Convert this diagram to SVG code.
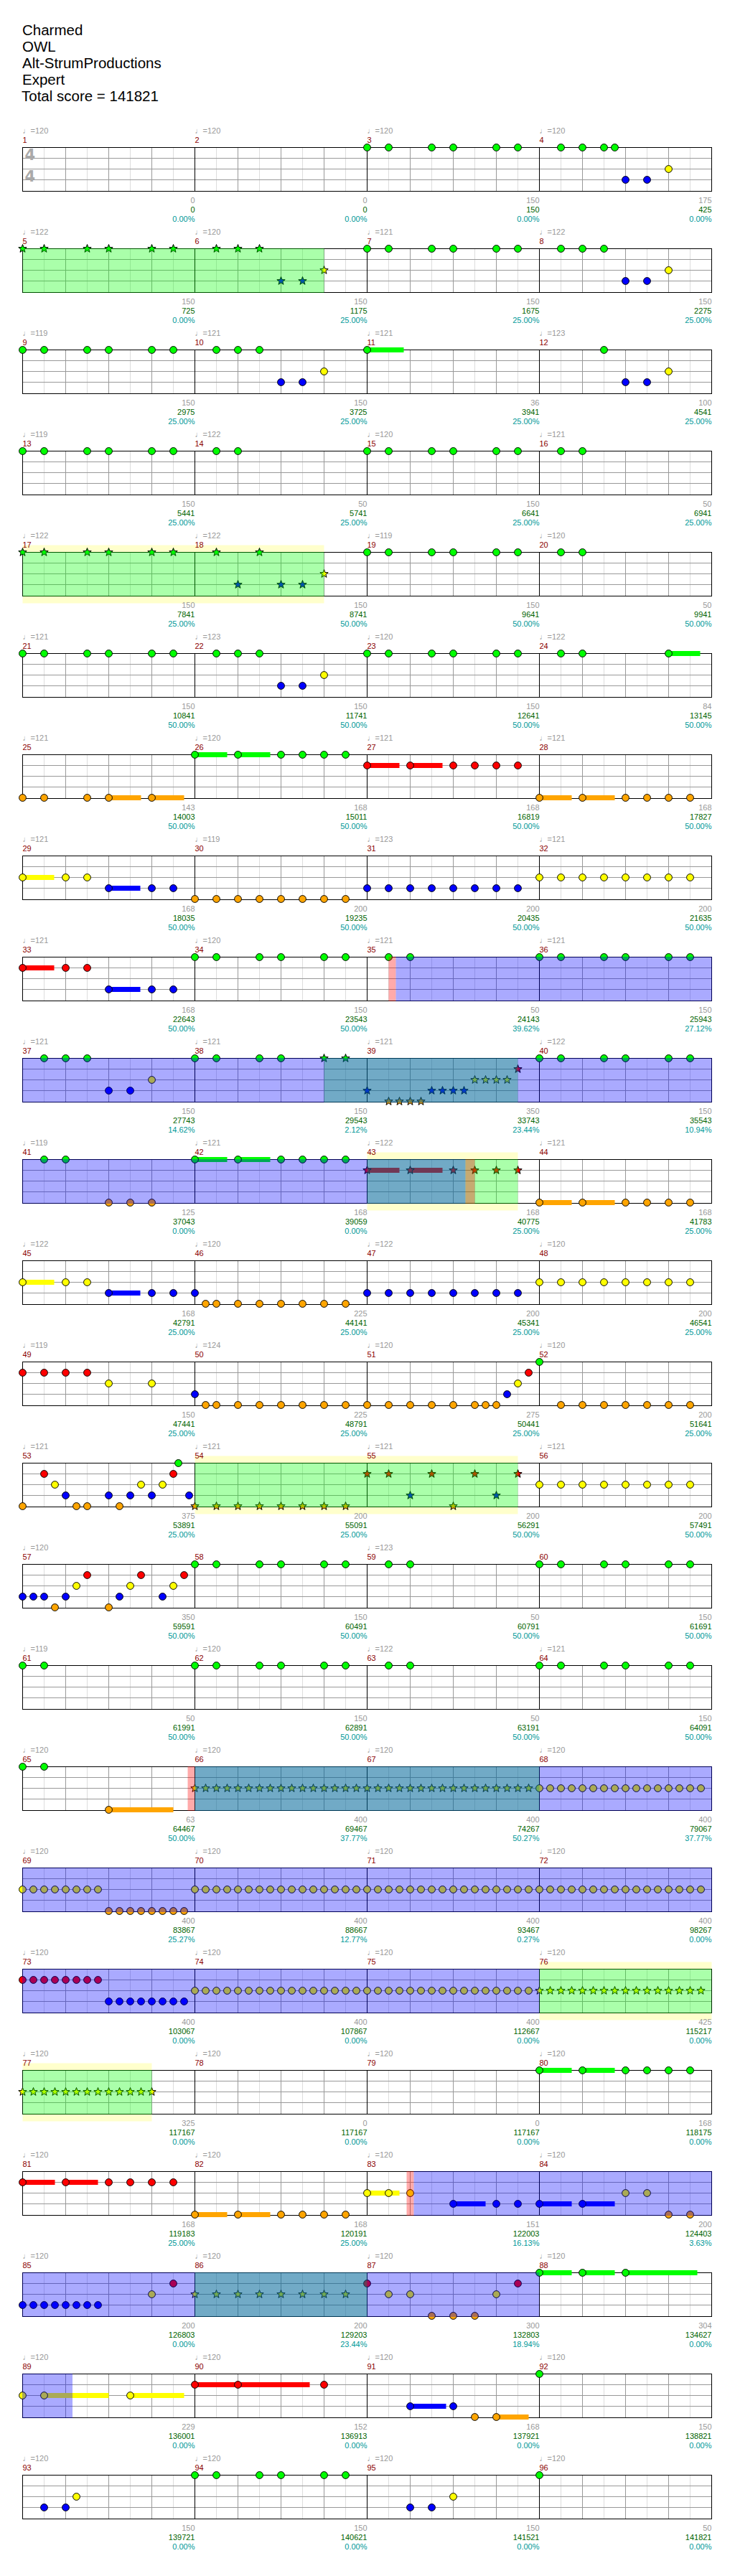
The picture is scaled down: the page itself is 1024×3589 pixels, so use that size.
<svg xmlns="http://www.w3.org/2000/svg" xmlns:xlink="http://www.w3.org/1999/xlink" width="1024" height="3589" viewBox="0 0 1024 3589">
<style>
.t{font-family:"Liberation Sans",Arial,"DejaVu Sans",sans-serif;font-size:11px}
.tp{fill:#999}
.mn{fill:#8b0000}
.s1{fill:#999;text-anchor:end}
.s2{fill:#006400;text-anchor:end}
.s3{fill:#009999;text-anchor:end}
.hd{font-family:"Liberation Sans",Arial,sans-serif;font-size:20.5px;fill:#000}
.ts{font-family:"DejaVu Sans",sans-serif;font-size:21px;font-weight:bold;fill:#aaa}
.og{fill:#0f0;opacity:.333}
.ob{fill:#00f;opacity:.333}
.op{fill:#f00;opacity:.333}
.bd{fill:#ff0;opacity:.2}
.sg{fill:#0f0}.sr{fill:#f00}.sy{fill:#ff0}.sb{fill:#00f}.so{fill:#ffa500}
</style>
<defs>
<g id="staff">
<rect x="31" y="0" width="960" height="61" fill="#fff"/>
<path d="M61 0V61M121 0V61M181 0V61M241 0V61M301 0V61M361 0V61M421 0V61M481 0V61M541 0V61M601 0V61M661 0V61M721 0V61M781 0V61M841 0V61M901 0V61M961 0V61" stroke="#ddd"/>
<path d="M31 15H991M31 30H991M31 45H991M91 0V61M151 0V61M211 0V61M331 0V61M391 0V61M451 0V61M571 0V61M631 0V61M691 0V61M811 0V61M871 0V61M931 0V61" stroke="#999"/>
<path d="M271 0V61M511 0V61M751 0V61" stroke="#000"/>
<rect x="31" y="0" width="960" height="61" fill="none" stroke="#000"/>
</g>
<circle id="g" r="4.9" fill="#0f0" stroke="#000"/>
<circle id="r" r="4.9" fill="#f00" stroke="#000"/>
<circle id="y" r="4.9" fill="#ff0" stroke="#000"/>
<circle id="b" r="4.9" fill="#00f" stroke="#000"/>
<circle id="o" r="4.9" fill="#ffa500" stroke="#000"/>
<polygon id="G" fill="#0f0" stroke="#000" points="0,-6 1.47,-2 5.7,-1.85 2.38,.77 3.53,4.85 0,2.5 -3.53,4.85 -2.38,.77 -5.7,-1.85 -1.47,-2"/>
<polygon id="R" fill="#f00" stroke="#000" points="0,-6 1.47,-2 5.7,-1.85 2.38,.77 3.53,4.85 0,2.5 -3.53,4.85 -2.38,.77 -5.7,-1.85 -1.47,-2"/>
<polygon id="Y" fill="#ff0" stroke="#000" points="0,-6 1.47,-2 5.7,-1.85 2.38,.77 3.53,4.85 0,2.5 -3.53,4.85 -2.38,.77 -5.7,-1.85 -1.47,-2"/>
<polygon id="B" fill="#00f" stroke="#000" points="0,-6 1.47,-2 5.7,-1.85 2.38,.77 3.53,4.85 0,2.5 -3.53,4.85 -2.38,.77 -5.7,-1.85 -1.47,-2"/>
<polygon id="O" fill="#ffa500" stroke="#000" points="0,-6 1.47,-2 5.7,-1.85 2.38,.77 3.53,4.85 0,2.5 -3.53,4.85 -2.38,.77 -5.7,-1.85 -1.47,-2"/>
</defs>
<rect width="1024" height="3589" fill="#fff"/>
<g id="header" class="hd">
<text x="31" y="49">Charmed</text>
<text x="31" y="72">OWL</text>
<text x="31" y="95">Alt-StrumProductions</text>
<text x="31" y="118">Expert</text>
<text x="30" y="141">Total score = 141821</text>
</g>

<g id="row1" transform="translate(.5,205.5)">
<use href="#staff"/>
<text class="ts" x="34" y="17">4</text><text class="ts" x="34" y="47">4</text>
<g id="m1" class="t"><text class="tp" x="31" y="-20">♩=120</text><text class="mn" x="31" y="-7">1</text><text class="s1" x="271" y="77">0</text><text class="s2" x="271" y="90">0</text><text class="s3" x="271" y="103">0.00%</text></g>
<g id="m2" class="t"><text class="tp" x="271" y="-20">♩=120</text><text class="mn" x="271" y="-7">2</text><text class="s1" x="511" y="77">0</text><text class="s2" x="511" y="90">0</text><text class="s3" x="511" y="103">0.00%</text></g>
<g id="m3" class="t"><text class="tp" x="511" y="-20">♩=120</text><text class="mn" x="511" y="-7">3</text><text class="s1" x="751" y="77">150</text><text class="s2" x="751" y="90">150</text><text class="s3" x="751" y="103">0.00%</text>
<use href="#g" x="511"/><use href="#g" x="541"/><use href="#g" x="601"/><use href="#g" x="631"/><use href="#g" x="691"/><use href="#g" x="721"/></g>
<g id="m4" class="t"><text class="tp" x="751" y="-20">♩=120</text><text class="mn" x="751" y="-7">4</text><text class="s1" x="991" y="77">175</text><text class="s2" x="991" y="90">425</text><text class="s3" x="991" y="103">0.00%</text>
<use href="#g" x="781"/><use href="#g" x="811"/><use href="#g" x="841"/><use href="#g" x="856"/><use href="#b" x="871" y="45"/><use href="#b" x="901" y="45"/><use href="#y" x="931" y="30"/></g>
</g>

<g id="row2" transform="translate(.5,346.5)">
<use href="#staff"/>
<g id="m5" class="t"><text class="tp" x="31" y="-20">♩=122</text><text class="mn" x="31" y="-7">5</text><text class="s1" x="271" y="77">150</text><text class="s2" x="271" y="90">725</text><text class="s3" x="271" y="103">0.00%</text>
<use href="#G" x="31"/><use href="#G" x="61"/><use href="#G" x="121"/><use href="#G" x="151"/><use href="#G" x="211"/><use href="#G" x="241"/></g>
<g id="m6" class="t"><text class="tp" x="271" y="-20">♩=120</text><text class="mn" x="271" y="-7">6</text><text class="s1" x="511" y="77">150</text><text class="s2" x="511" y="90">1175</text><text class="s3" x="511" y="103">25.00%</text>
<use href="#G" x="301"/><use href="#G" x="331"/><use href="#G" x="361"/><use href="#B" x="391" y="45"/><use href="#B" x="421" y="45"/><use href="#Y" x="451" y="30"/></g>
<g id="m7" class="t"><text class="tp" x="511" y="-20">♩=121</text><text class="mn" x="511" y="-7">7</text><text class="s1" x="751" y="77">150</text><text class="s2" x="751" y="90">1675</text><text class="s3" x="751" y="103">25.00%</text>
<use href="#g" x="511"/><use href="#g" x="541"/><use href="#g" x="601"/><use href="#g" x="631"/><use href="#g" x="691"/><use href="#g" x="721"/></g>
<g id="m8" class="t"><text class="tp" x="751" y="-20">♩=122</text><text class="mn" x="751" y="-7">8</text><text class="s1" x="991" y="77">150</text><text class="s2" x="991" y="90">2275</text><text class="s3" x="991" y="103">25.00%</text>
<use href="#g" x="781"/><use href="#g" x="811"/><use href="#g" x="841"/><use href="#b" x="871" y="45"/><use href="#b" x="901" y="45"/><use href="#y" x="931" y="30"/></g>
<rect class="og" x="31" y="-.5" width="420" height="62"/>
</g>

<g id="row3" transform="translate(.5,487.5)">
<use href="#staff"/>
<g id="m9" class="t"><text class="tp" x="31" y="-20">♩=119</text><text class="mn" x="31" y="-7">9</text><text class="s1" x="271" y="77">150</text><text class="s2" x="271" y="90">2975</text><text class="s3" x="271" y="103">25.00%</text>
<use href="#g" x="31"/><use href="#g" x="61"/><use href="#g" x="121"/><use href="#g" x="151"/><use href="#g" x="211"/><use href="#g" x="241"/></g>
<g id="m10" class="t"><text class="tp" x="271" y="-20">♩=121</text><text class="mn" x="271" y="-7">10</text><text class="s1" x="511" y="77">150</text><text class="s2" x="511" y="90">3725</text><text class="s3" x="511" y="103">25.00%</text>
<use href="#g" x="301"/><use href="#g" x="331"/><use href="#g" x="361"/><use href="#b" x="391" y="45"/><use href="#b" x="421" y="45"/><use href="#y" x="451" y="30"/></g>
<g id="m11" class="t"><text class="tp" x="511" y="-20">♩=121</text><text class="mn" x="511" y="-7">11</text><text class="s1" x="751" y="77">36</text><text class="s2" x="751" y="90">3941</text><text class="s3" x="751" y="103">25.00%</text>
<rect class="sg" x="511" y="-3.5" width="51" height="7"/><use href="#g" x="511"/></g>
<g id="m12" class="t"><text class="tp" x="751" y="-20">♩=123</text><text class="mn" x="751" y="-7">12</text><text class="s1" x="991" y="77">100</text><text class="s2" x="991" y="90">4541</text><text class="s3" x="991" y="103">25.00%</text>
<use href="#g" x="841"/><use href="#b" x="871" y="45"/><use href="#b" x="901" y="45"/><use href="#y" x="931" y="30"/></g>
</g>

<g id="row4" transform="translate(.5,628.5)">
<use href="#staff"/>
<g id="m13" class="t"><text class="tp" x="31" y="-20">♩=119</text><text class="mn" x="31" y="-7">13</text><text class="s1" x="271" y="77">150</text><text class="s2" x="271" y="90">5441</text><text class="s3" x="271" y="103">25.00%</text>
<use href="#g" x="31"/><use href="#g" x="61"/><use href="#g" x="121"/><use href="#g" x="151"/><use href="#g" x="211"/><use href="#g" x="241"/></g>
<g id="m14" class="t"><text class="tp" x="271" y="-20">♩=122</text><text class="mn" x="271" y="-7">14</text><text class="s1" x="511" y="77">50</text><text class="s2" x="511" y="90">5741</text><text class="s3" x="511" y="103">25.00%</text>
<use href="#g" x="301"/><use href="#g" x="331"/></g>
<g id="m15" class="t"><text class="tp" x="511" y="-20">♩=120</text><text class="mn" x="511" y="-7">15</text><text class="s1" x="751" y="77">150</text><text class="s2" x="751" y="90">6641</text><text class="s3" x="751" y="103">25.00%</text>
<use href="#g" x="511"/><use href="#g" x="541"/><use href="#g" x="601"/><use href="#g" x="631"/><use href="#g" x="691"/><use href="#g" x="721"/></g>
<g id="m16" class="t"><text class="tp" x="751" y="-20">♩=121</text><text class="mn" x="751" y="-7">16</text><text class="s1" x="991" y="77">50</text><text class="s2" x="991" y="90">6941</text><text class="s3" x="991" y="103">25.00%</text>
<use href="#g" x="781"/><use href="#g" x="811"/></g>
</g>

<g id="row5" transform="translate(.5,769.5)">
<rect class="bd" x="31" y="-10" width="420" height="81"/>
<use href="#staff"/>
<g id="m17" class="t"><text class="tp" x="31" y="-20">♩=122</text><text class="mn" x="31" y="-7">17</text><text class="s1" x="271" y="77">150</text><text class="s2" x="271" y="90">7841</text><text class="s3" x="271" y="103">25.00%</text>
<use href="#G" x="31"/><use href="#G" x="61"/><use href="#G" x="121"/><use href="#G" x="151"/><use href="#G" x="211"/><use href="#G" x="241"/></g>
<g id="m18" class="t"><text class="tp" x="271" y="-20">♩=122</text><text class="mn" x="271" y="-7">18</text><text class="s1" x="511" y="77">150</text><text class="s2" x="511" y="90">8741</text><text class="s3" x="511" y="103">50.00%</text>
<use href="#G" x="301"/><use href="#G" x="361"/><use href="#B" x="331" y="45"/><use href="#B" x="391" y="45"/><use href="#B" x="421" y="45"/><use href="#Y" x="451" y="30"/></g>
<g id="m19" class="t"><text class="tp" x="511" y="-20">♩=119</text><text class="mn" x="511" y="-7">19</text><text class="s1" x="751" y="77">150</text><text class="s2" x="751" y="90">9641</text><text class="s3" x="751" y="103">50.00%</text>
<use href="#g" x="511"/><use href="#g" x="541"/><use href="#g" x="601"/><use href="#g" x="631"/><use href="#g" x="691"/><use href="#g" x="721"/></g>
<g id="m20" class="t"><text class="tp" x="751" y="-20">♩=120</text><text class="mn" x="751" y="-7">20</text><text class="s1" x="991" y="77">50</text><text class="s2" x="991" y="90">9941</text><text class="s3" x="991" y="103">50.00%</text>
<use href="#g" x="781"/><use href="#g" x="811"/></g>
<rect class="og" x="31" y="-.5" width="420" height="62"/>
</g>

<g id="row6" transform="translate(.5,910.5)">
<use href="#staff"/>
<g id="m21" class="t"><text class="tp" x="31" y="-20">♩=121</text><text class="mn" x="31" y="-7">21</text><text class="s1" x="271" y="77">150</text><text class="s2" x="271" y="90">10841</text><text class="s3" x="271" y="103">50.00%</text>
<use href="#g" x="31"/><use href="#g" x="61"/><use href="#g" x="121"/><use href="#g" x="151"/><use href="#g" x="211"/><use href="#g" x="241"/></g>
<g id="m22" class="t"><text class="tp" x="271" y="-20">♩=123</text><text class="mn" x="271" y="-7">22</text><text class="s1" x="511" y="77">150</text><text class="s2" x="511" y="90">11741</text><text class="s3" x="511" y="103">50.00%</text>
<use href="#g" x="301"/><use href="#g" x="331"/><use href="#g" x="361"/><use href="#b" x="391" y="45"/><use href="#b" x="421" y="45"/><use href="#y" x="451" y="30"/></g>
<g id="m23" class="t"><text class="tp" x="511" y="-20">♩=120</text><text class="mn" x="511" y="-7">23</text><text class="s1" x="751" y="77">150</text><text class="s2" x="751" y="90">12641</text><text class="s3" x="751" y="103">50.00%</text>
<use href="#g" x="511"/><use href="#g" x="541"/><use href="#g" x="601"/><use href="#g" x="631"/><use href="#g" x="691"/><use href="#g" x="721"/></g>
<g id="m24" class="t"><text class="tp" x="751" y="-20">♩=122</text><text class="mn" x="751" y="-7">24</text><text class="s1" x="991" y="77">84</text><text class="s2" x="991" y="90">13145</text><text class="s3" x="991" y="103">50.00%</text>
<rect class="sg" x="931" y="-3.5" width="44" height="7"/><use href="#g" x="781"/><use href="#g" x="811"/><use href="#g" x="931"/></g>
</g>

<g id="row7" transform="translate(.5,1051.5)">
<use href="#staff"/>
<g id="m25" class="t"><text class="tp" x="31" y="-20">♩=121</text><text class="mn" x="31" y="-7">25</text><text class="s1" x="271" y="77">143</text><text class="s2" x="271" y="90">14003</text><text class="s3" x="271" y="103">50.00%</text>
<rect class="so" x="151" y="56.5" width="45" height="7"/><rect class="so" x="211" y="56.5" width="45" height="7"/>
<use href="#o" x="31" y="60"/><use href="#o" x="61" y="60"/><use href="#o" x="121" y="60"/><use href="#o" x="151" y="60"/><use href="#o" x="211" y="60"/></g>
<g id="m26" class="t"><text class="tp" x="271" y="-20">♩=120</text><text class="mn" x="271" y="-7">26</text><text class="s1" x="511" y="77">168</text><text class="s2" x="511" y="90">15011</text><text class="s3" x="511" y="103">50.00%</text>
<rect class="sg" x="271" y="-3.5" width="45" height="7"/><rect class="sg" x="331" y="-3.5" width="45" height="7"/>
<use href="#g" x="271"/><use href="#g" x="331"/><use href="#g" x="391"/><use href="#g" x="421"/><use href="#g" x="451"/><use href="#g" x="481"/></g>
<g id="m27" class="t"><text class="tp" x="511" y="-20">♩=121</text><text class="mn" x="511" y="-7">27</text><text class="s1" x="751" y="77">168</text><text class="s2" x="751" y="90">16819</text><text class="s3" x="751" y="103">50.00%</text>
<rect class="sr" x="511" y="11.5" width="45" height="7"/><rect class="sr" x="571" y="11.5" width="45" height="7"/>
<use href="#r" x="511" y="15"/><use href="#r" x="571" y="15"/><use href="#r" x="631" y="15"/><use href="#r" x="661" y="15"/><use href="#r" x="691" y="15"/><use href="#r" x="721" y="15"/></g>
<g id="m28" class="t"><text class="tp" x="751" y="-20">♩=121</text><text class="mn" x="751" y="-7">28</text><text class="s1" x="991" y="77">168</text><text class="s2" x="991" y="90">17827</text><text class="s3" x="991" y="103">50.00%</text>
<rect class="so" x="751" y="56.5" width="45" height="7"/><rect class="so" x="811" y="56.5" width="45" height="7"/>
<use href="#o" x="751" y="60"/><use href="#o" x="811" y="60"/><use href="#o" x="871" y="60"/><use href="#o" x="901" y="60"/><use href="#o" x="931" y="60"/><use href="#o" x="961" y="60"/></g>
</g>

<g id="row8" transform="translate(.5,1192.5)">
<use href="#staff"/>
<g id="m29" class="t"><text class="tp" x="31" y="-20">♩=121</text><text class="mn" x="31" y="-7">29</text><text class="s1" x="271" y="77">168</text><text class="s2" x="271" y="90">18035</text><text class="s3" x="271" y="103">50.00%</text>
<rect class="sy" x="31" y="26.5" width="44" height="7"/><rect class="sb" x="151" y="41.5" width="44" height="7"/>
<use href="#y" x="31" y="30"/><use href="#y" x="91" y="30"/><use href="#y" x="121" y="30"/><use href="#b" x="151" y="45"/><use href="#b" x="211" y="45"/><use href="#b" x="241" y="45"/></g>
<g id="m30" class="t"><text class="tp" x="271" y="-20">♩=119</text><text class="mn" x="271" y="-7">30</text><text class="s1" x="511" y="77">200</text><text class="s2" x="511" y="90">19235</text><text class="s3" x="511" y="103">50.00%</text>
<use href="#o" x="271" y="60"/><use href="#o" x="301" y="60"/><use href="#o" x="331" y="60"/><use href="#o" x="361" y="60"/><use href="#o" x="391" y="60"/><use href="#o" x="421" y="60"/><use href="#o" x="451" y="60"/><use href="#o" x="481" y="60"/></g>
<g id="m31" class="t"><text class="tp" x="511" y="-20">♩=123</text><text class="mn" x="511" y="-7">31</text><text class="s1" x="751" y="77">200</text><text class="s2" x="751" y="90">20435</text><text class="s3" x="751" y="103">50.00%</text>
<use href="#b" x="511" y="45"/><use href="#b" x="541" y="45"/><use href="#b" x="571" y="45"/><use href="#b" x="601" y="45"/><use href="#b" x="631" y="45"/><use href="#b" x="661" y="45"/><use href="#b" x="691" y="45"/><use href="#b" x="721" y="45"/></g>
<g id="m32" class="t"><text class="tp" x="751" y="-20">♩=121</text><text class="mn" x="751" y="-7">32</text><text class="s1" x="991" y="77">200</text><text class="s2" x="991" y="90">21635</text><text class="s3" x="991" y="103">50.00%</text>
<use href="#y" x="751" y="30"/><use href="#y" x="781" y="30"/><use href="#y" x="811" y="30"/><use href="#y" x="841" y="30"/><use href="#y" x="871" y="30"/><use href="#y" x="901" y="30"/><use href="#y" x="931" y="30"/><use href="#y" x="961" y="30"/></g>
</g>

<g id="row9" transform="translate(.5,1333.5)">
<use href="#staff"/>
<g id="m33" class="t"><text class="tp" x="31" y="-20">♩=121</text><text class="mn" x="31" y="-7">33</text><text class="s1" x="271" y="77">168</text><text class="s2" x="271" y="90">22643</text><text class="s3" x="271" y="103">50.00%</text>
<rect class="sr" x="31" y="11.5" width="44" height="7"/><rect class="sb" x="151" y="41.5" width="44" height="7"/>
<use href="#r" x="31" y="15"/><use href="#r" x="91" y="15"/><use href="#r" x="121" y="15"/><use href="#b" x="151" y="45"/><use href="#b" x="211" y="45"/><use href="#b" x="241" y="45"/></g>
<g id="m34" class="t"><text class="tp" x="271" y="-20">♩=120</text><text class="mn" x="271" y="-7">34</text><text class="s1" x="511" y="77">150</text><text class="s2" x="511" y="90">23543</text><text class="s3" x="511" y="103">50.00%</text>
<use href="#g" x="271"/><use href="#g" x="301"/><use href="#g" x="361"/><use href="#g" x="391"/><use href="#g" x="451"/><use href="#g" x="481"/></g>
<g id="m35" class="t"><text class="tp" x="511" y="-20">♩=121</text><text class="mn" x="511" y="-7">35</text><text class="s1" x="751" y="77">50</text><text class="s2" x="751" y="90">24143</text><text class="s3" x="751" y="103">39.62%</text>
<use href="#g" x="541"/><use href="#g" x="571"/></g>
<g id="m36" class="t"><text class="tp" x="751" y="-20">♩=121</text><text class="mn" x="751" y="-7">36</text><text class="s1" x="991" y="77">150</text><text class="s2" x="991" y="90">25943</text><text class="s3" x="991" y="103">27.12%</text>
<use href="#g" x="751"/><use href="#g" x="781"/><use href="#g" x="841"/><use href="#g" x="871"/><use href="#g" x="931"/><use href="#g" x="961"/></g>
<rect class="op" x="541" y="-.5" width="10" height="62"/>
<rect class="ob" x="551" y="-.5" width="440.5" height="62"/>
</g>

<g id="row10" transform="translate(.5,1474.5)">
<use href="#staff"/>
<g id="m37" class="t"><text class="tp" x="31" y="-20">♩=121</text><text class="mn" x="31" y="-7">37</text><text class="s1" x="271" y="77">150</text><text class="s2" x="271" y="90">27743</text><text class="s3" x="271" y="103">14.62%</text>
<use href="#g" x="61"/><use href="#g" x="91"/><use href="#g" x="121"/><use href="#b" x="151" y="45"/><use href="#b" x="181" y="45"/><use href="#y" x="211" y="30"/></g>
<g id="m38" class="t"><text class="tp" x="271" y="-20">♩=121</text><text class="mn" x="271" y="-7">38</text><text class="s1" x="511" y="77">150</text><text class="s2" x="511" y="90">29543</text><text class="s3" x="511" y="103">2.12%</text>
<use href="#g" x="271"/><use href="#g" x="301"/><use href="#g" x="361"/><use href="#g" x="391"/><use href="#G" x="451"/><use href="#G" x="481"/></g>
<g id="m39" class="t"><text class="tp" x="511" y="-20">♩=121</text><text class="mn" x="511" y="-7">39</text><text class="s1" x="751" y="77">350</text><text class="s2" x="751" y="90">33743</text><text class="s3" x="751" y="103">23.44%</text>
<use href="#B" x="511" y="45"/><use href="#O" x="541" y="60"/><use href="#O" x="556" y="60"/><use href="#O" x="571" y="60"/><use href="#O" x="586" y="60"/><use href="#B" x="601" y="45"/><use href="#B" x="616" y="45"/><use href="#B" x="631" y="45"/><use href="#B" x="646" y="45"/><use href="#Y" x="661" y="30"/><use href="#Y" x="676" y="30"/><use href="#Y" x="691" y="30"/><use href="#Y" x="706" y="30"/><use href="#R" x="721" y="15"/></g>
<g id="m40" class="t"><text class="tp" x="751" y="-20">♩=122</text><text class="mn" x="751" y="-7">40</text><text class="s1" x="991" y="77">150</text><text class="s2" x="991" y="90">35543</text><text class="s3" x="991" y="103">10.94%</text>
<use href="#g" x="751"/><use href="#g" x="781"/><use href="#g" x="841"/><use href="#g" x="871"/><use href="#g" x="931"/><use href="#g" x="961"/></g>
<rect class="og" x="451" y="-.5" width="270" height="62"/>
<rect class="ob" x="30.5" y="-.5" width="961" height="62"/>
</g>

<g id="row11" transform="translate(.5,1615.5)">
<rect class="bd" x="511" y="-10" width="210" height="81"/>
<use href="#staff"/>
<g id="m41" class="t"><text class="tp" x="31" y="-20">♩=119</text><text class="mn" x="31" y="-7">41</text><text class="s1" x="271" y="77">125</text><text class="s2" x="271" y="90">37043</text><text class="s3" x="271" y="103">0.00%</text>
<use href="#g" x="61"/><use href="#g" x="91"/><use href="#o" x="151" y="60"/><use href="#o" x="181" y="60"/><use href="#o" x="211" y="60"/></g>
<g id="m42" class="t"><text class="tp" x="271" y="-20">♩=121</text><text class="mn" x="271" y="-7">42</text><text class="s1" x="511" y="77">168</text><text class="s2" x="511" y="90">39059</text><text class="s3" x="511" y="103">0.00%</text>
<rect class="sg" x="271" y="-3.5" width="45" height="7"/><rect class="sg" x="331" y="-3.5" width="45" height="7"/>
<use href="#g" x="271"/><use href="#g" x="331"/><use href="#g" x="391"/><use href="#g" x="421"/><use href="#g" x="451"/><use href="#g" x="481"/></g>
<g id="m43" class="t"><text class="tp" x="511" y="-20">♩=122</text><text class="mn" x="511" y="-7">43</text><text class="s1" x="751" y="77">168</text><text class="s2" x="751" y="90">40775</text><text class="s3" x="751" y="103">25.00%</text>
<rect class="sr" x="511" y="11.5" width="45" height="7"/><rect class="sr" x="571" y="11.5" width="45" height="7"/>
<use href="#R" x="511" y="15"/><use href="#R" x="571" y="15"/><use href="#R" x="631" y="15"/><use href="#R" x="661" y="15"/><use href="#R" x="691" y="15"/><use href="#R" x="721" y="15"/></g>
<g id="m44" class="t"><text class="tp" x="751" y="-20">♩=121</text><text class="mn" x="751" y="-7">44</text><text class="s1" x="991" y="77">168</text><text class="s2" x="991" y="90">41783</text><text class="s3" x="991" y="103">25.00%</text>
<rect class="so" x="751" y="56.5" width="45" height="7"/><rect class="so" x="811" y="56.5" width="45" height="7"/>
<use href="#o" x="751" y="60"/><use href="#o" x="811" y="60"/><use href="#o" x="871" y="60"/><use href="#o" x="901" y="60"/><use href="#o" x="931" y="60"/><use href="#o" x="961" y="60"/></g>
<rect class="og" x="511" y="-.5" width="210" height="62"/>
<rect class="ob" x="30.5" y="-.5" width="617.5" height="62"/>
<rect class="op" x="648" y="-.5" width="13" height="62"/>
</g>

<g id="row12" transform="translate(.5,1756.5)">
<use href="#staff"/>
<g id="m45" class="t"><text class="tp" x="31" y="-20">♩=122</text><text class="mn" x="31" y="-7">45</text><text class="s1" x="271" y="77">168</text><text class="s2" x="271" y="90">42791</text><text class="s3" x="271" y="103">25.00%</text>
<rect class="sy" x="31" y="26.5" width="44" height="7"/><rect class="sb" x="151" y="41.5" width="44" height="7"/>
<use href="#y" x="31" y="30"/><use href="#y" x="91" y="30"/><use href="#y" x="121" y="30"/><use href="#b" x="151" y="45"/><use href="#b" x="211" y="45"/><use href="#b" x="241" y="45"/></g>
<g id="m46" class="t"><text class="tp" x="271" y="-20">♩=120</text><text class="mn" x="271" y="-7">46</text><text class="s1" x="511" y="77">225</text><text class="s2" x="511" y="90">44141</text><text class="s3" x="511" y="103">25.00%</text>
<use href="#b" x="271" y="45"/><use href="#o" x="286" y="60"/><use href="#o" x="301" y="60"/><use href="#o" x="331" y="60"/><use href="#o" x="361" y="60"/><use href="#o" x="391" y="60"/><use href="#o" x="421" y="60"/><use href="#o" x="451" y="60"/><use href="#o" x="481" y="60"/></g>
<g id="m47" class="t"><text class="tp" x="511" y="-20">♩=122</text><text class="mn" x="511" y="-7">47</text><text class="s1" x="751" y="77">200</text><text class="s2" x="751" y="90">45341</text><text class="s3" x="751" y="103">25.00%</text>
<use href="#b" x="511" y="45"/><use href="#b" x="541" y="45"/><use href="#b" x="571" y="45"/><use href="#b" x="601" y="45"/><use href="#b" x="631" y="45"/><use href="#b" x="661" y="45"/><use href="#b" x="691" y="45"/><use href="#b" x="721" y="45"/></g>
<g id="m48" class="t"><text class="tp" x="751" y="-20">♩=120</text><text class="mn" x="751" y="-7">48</text><text class="s1" x="991" y="77">200</text><text class="s2" x="991" y="90">46541</text><text class="s3" x="991" y="103">25.00%</text>
<use href="#y" x="751" y="30"/><use href="#y" x="781" y="30"/><use href="#y" x="811" y="30"/><use href="#y" x="841" y="30"/><use href="#y" x="871" y="30"/><use href="#y" x="901" y="30"/><use href="#y" x="931" y="30"/><use href="#y" x="961" y="30"/></g>
</g>

<g id="row13" transform="translate(.5,1897.5)">
<use href="#staff"/>
<g id="m49" class="t"><text class="tp" x="31" y="-20">♩=119</text><text class="mn" x="31" y="-7">49</text><text class="s1" x="271" y="77">150</text><text class="s2" x="271" y="90">47441</text><text class="s3" x="271" y="103">25.00%</text>
<use href="#r" x="31" y="15"/><use href="#r" x="61" y="15"/><use href="#r" x="91" y="15"/><use href="#r" x="121" y="15"/><use href="#y" x="151" y="30"/><use href="#y" x="211" y="30"/></g>
<g id="m50" class="t"><text class="tp" x="271" y="-20">♩=124</text><text class="mn" x="271" y="-7">50</text><text class="s1" x="511" y="77">225</text><text class="s2" x="511" y="90">48791</text><text class="s3" x="511" y="103">25.00%</text>
<use href="#b" x="271" y="45"/><use href="#o" x="286" y="60"/><use href="#o" x="301" y="60"/><use href="#o" x="331" y="60"/><use href="#o" x="361" y="60"/><use href="#o" x="391" y="60"/><use href="#o" x="421" y="60"/><use href="#o" x="451" y="60"/><use href="#o" x="481" y="60"/></g>
<g id="m51" class="t"><text class="tp" x="511" y="-20">♩=120</text><text class="mn" x="511" y="-7">51</text><text class="s1" x="751" y="77">275</text><text class="s2" x="751" y="90">50441</text><text class="s3" x="751" y="103">25.00%</text>
<use href="#o" x="511" y="60"/><use href="#o" x="541" y="60"/><use href="#o" x="571" y="60"/><use href="#o" x="601" y="60"/><use href="#o" x="631" y="60"/><use href="#o" x="661" y="60"/><use href="#o" x="676" y="60"/><use href="#o" x="691" y="60"/><use href="#b" x="706" y="45"/><use href="#y" x="721" y="30"/><use href="#r" x="736" y="15"/></g>
<g id="m52" class="t"><text class="tp" x="751" y="-20">♩=120</text><text class="mn" x="751" y="-7">52</text><text class="s1" x="991" y="77">200</text><text class="s2" x="991" y="90">51641</text><text class="s3" x="991" y="103">25.00%</text>
<use href="#g" x="751"/><use href="#o" x="781" y="60"/><use href="#o" x="811" y="60"/><use href="#o" x="841" y="60"/><use href="#o" x="871" y="60"/><use href="#o" x="901" y="60"/><use href="#o" x="931" y="60"/><use href="#o" x="961" y="60"/></g>
</g>

<g id="row14" transform="translate(.5,2038.5)">
<rect class="bd" x="271" y="-10" width="450" height="81"/>
<use href="#staff"/>
<g id="m53" class="t"><text class="tp" x="31" y="-20">♩=121</text><text class="mn" x="31" y="-7">53</text><text class="s1" x="271" y="77">375</text><text class="s2" x="271" y="90">53891</text><text class="s3" x="271" y="103">25.00%</text>
<use href="#o" x="31" y="60"/><use href="#r" x="61" y="15"/><use href="#y" x="76" y="30"/><use href="#b" x="91" y="45"/><use href="#o" x="106" y="60"/><use href="#o" x="121" y="60"/><use href="#b" x="151" y="45"/><use href="#o" x="166" y="60"/><use href="#b" x="181" y="45"/><use href="#y" x="196" y="30"/><use href="#b" x="211" y="45"/><use href="#y" x="226" y="30"/><use href="#r" x="241" y="15"/><use href="#g" x="248"/><use href="#b" x="263" y="45"/></g>
<g id="m54" class="t"><text class="tp" x="271" y="-20">♩=121</text><text class="mn" x="271" y="-7">54</text><text class="s1" x="511" y="77">200</text><text class="s2" x="511" y="90">55091</text><text class="s3" x="511" y="103">25.00%</text>
<use href="#O" x="271" y="60"/><use href="#O" x="301" y="60"/><use href="#O" x="331" y="60"/><use href="#O" x="361" y="60"/><use href="#O" x="391" y="60"/><use href="#O" x="421" y="60"/><use href="#O" x="451" y="60"/><use href="#O" x="481" y="60"/></g>
<g id="m55" class="t"><text class="tp" x="511" y="-20">♩=121</text><text class="mn" x="511" y="-7">55</text><text class="s1" x="751" y="77">200</text><text class="s2" x="751" y="90">56291</text><text class="s3" x="751" y="103">50.00%</text>
<use href="#R" x="511" y="15"/><use href="#R" x="541" y="15"/><use href="#B" x="571" y="45"/><use href="#R" x="601" y="15"/><use href="#O" x="631" y="60"/><use href="#R" x="661" y="15"/><use href="#B" x="691" y="45"/><use href="#R" x="721" y="15"/></g>
<g id="m56" class="t"><text class="tp" x="751" y="-20">♩=121</text><text class="mn" x="751" y="-7">56</text><text class="s1" x="991" y="77">200</text><text class="s2" x="991" y="90">57491</text><text class="s3" x="991" y="103">50.00%</text>
<use href="#y" x="751" y="30"/><use href="#y" x="781" y="30"/><use href="#y" x="811" y="30"/><use href="#y" x="841" y="30"/><use href="#y" x="871" y="30"/><use href="#y" x="901" y="30"/><use href="#y" x="931" y="30"/><use href="#y" x="961" y="30"/></g>
<rect class="og" x="271" y="-.5" width="450" height="62"/>
</g>

<g id="row15" transform="translate(.5,2179.5)">
<use href="#staff"/>
<g id="m57" class="t"><text class="tp" x="31" y="-20">♩=120</text><text class="mn" x="31" y="-7">57</text><text class="s1" x="271" y="77">350</text><text class="s2" x="271" y="90">59591</text><text class="s3" x="271" y="103">50.00%</text>
<use href="#b" x="31" y="45"/><use href="#b" x="46" y="45"/><use href="#b" x="61" y="45"/><use href="#o" x="76" y="60"/><use href="#b" x="91" y="45"/><use href="#y" x="106" y="30"/><use href="#r" x="121" y="15"/><use href="#o" x="151" y="60"/><use href="#b" x="166" y="45"/><use href="#y" x="181" y="30"/><use href="#r" x="196" y="15"/><use href="#b" x="226" y="45"/><use href="#y" x="241" y="30"/><use href="#r" x="256" y="15"/></g>
<g id="m58" class="t"><text class="mn" x="271" y="-7">58</text><text class="s1" x="511" y="77">150</text><text class="s2" x="511" y="90">60491</text><text class="s3" x="511" y="103">50.00%</text>
<use href="#g" x="271"/><use href="#g" x="301"/><use href="#g" x="361"/><use href="#g" x="391"/><use href="#g" x="451"/><use href="#g" x="481"/></g>
<g id="m59" class="t"><text class="tp" x="511" y="-20">♩=123</text><text class="mn" x="511" y="-7">59</text><text class="s1" x="751" y="77">50</text><text class="s2" x="751" y="90">60791</text><text class="s3" x="751" y="103">50.00%</text>
<use href="#g" x="541"/><use href="#g" x="571"/></g>
<g id="m60" class="t"><text class="mn" x="751" y="-7">60</text><text class="s1" x="991" y="77">150</text><text class="s2" x="991" y="90">61691</text><text class="s3" x="991" y="103">50.00%</text>
<use href="#g" x="751"/><use href="#g" x="781"/><use href="#g" x="841"/><use href="#g" x="871"/><use href="#g" x="931"/><use href="#g" x="961"/></g>
</g>

<g id="row16" transform="translate(.5,2320.5)">
<use href="#staff"/>
<g id="m61" class="t"><text class="tp" x="31" y="-20">♩=119</text><text class="mn" x="31" y="-7">61</text><text class="s1" x="271" y="77">50</text><text class="s2" x="271" y="90">61991</text><text class="s3" x="271" y="103">50.00%</text>
<use href="#g" x="31"/><use href="#g" x="61"/></g>
<g id="m62" class="t"><text class="tp" x="271" y="-20">♩=120</text><text class="mn" x="271" y="-7">62</text><text class="s1" x="511" y="77">150</text><text class="s2" x="511" y="90">62891</text><text class="s3" x="511" y="103">50.00%</text>
<use href="#g" x="271"/><use href="#g" x="301"/><use href="#g" x="361"/><use href="#g" x="391"/><use href="#g" x="451"/><use href="#g" x="481"/></g>
<g id="m63" class="t"><text class="tp" x="511" y="-20">♩=122</text><text class="mn" x="511" y="-7">63</text><text class="s1" x="751" y="77">50</text><text class="s2" x="751" y="90">63191</text><text class="s3" x="751" y="103">50.00%</text>
<use href="#g" x="541"/><use href="#g" x="571"/></g>
<g id="m64" class="t"><text class="tp" x="751" y="-20">♩=121</text><text class="mn" x="751" y="-7">64</text><text class="s1" x="991" y="77">150</text><text class="s2" x="991" y="90">64091</text><text class="s3" x="991" y="103">50.00%</text>
<use href="#g" x="751"/><use href="#g" x="781"/><use href="#g" x="841"/><use href="#g" x="871"/><use href="#g" x="931"/><use href="#g" x="961"/></g>
</g>

<g id="row17" transform="translate(.5,2461.5)">
<use href="#staff"/>
<g id="m65" class="t"><text class="tp" x="31" y="-20">♩=120</text><text class="mn" x="31" y="-7">65</text><text class="s1" x="271" y="77">63</text><text class="s2" x="271" y="90">64467</text><text class="s3" x="271" y="103">50.00%</text>
<rect class="so" x="151" y="56.5" width="90" height="7"/><use href="#g" x="31"/><use href="#g" x="61"/><use href="#o" x="151" y="60"/></g>
<g id="m66" class="t"><text class="tp" x="271" y="-20">♩=120</text><text class="mn" x="271" y="-7">66</text><text class="s1" x="511" y="77">400</text><text class="s2" x="511" y="90">69467</text><text class="s3" x="511" y="103">37.77%</text>
<use href="#Y" x="271" y="30"/><use href="#Y" x="286" y="30"/><use href="#Y" x="301" y="30"/><use href="#Y" x="316" y="30"/><use href="#Y" x="331" y="30"/><use href="#Y" x="346" y="30"/><use href="#Y" x="361" y="30"/><use href="#Y" x="376" y="30"/><use href="#Y" x="391" y="30"/><use href="#Y" x="406" y="30"/><use href="#Y" x="421" y="30"/><use href="#Y" x="436" y="30"/><use href="#Y" x="451" y="30"/><use href="#Y" x="466" y="30"/><use href="#Y" x="481" y="30"/><use href="#Y" x="496" y="30"/></g>
<g id="m67" class="t"><text class="tp" x="511" y="-20">♩=120</text><text class="mn" x="511" y="-7">67</text><text class="s1" x="751" y="77">400</text><text class="s2" x="751" y="90">74267</text><text class="s3" x="751" y="103">50.27%</text>
<use href="#Y" x="511" y="30"/><use href="#Y" x="526" y="30"/><use href="#Y" x="541" y="30"/><use href="#Y" x="556" y="30"/><use href="#Y" x="571" y="30"/><use href="#Y" x="586" y="30"/><use href="#Y" x="601" y="30"/><use href="#Y" x="616" y="30"/><use href="#Y" x="631" y="30"/><use href="#Y" x="646" y="30"/><use href="#Y" x="661" y="30"/><use href="#Y" x="676" y="30"/><use href="#Y" x="691" y="30"/><use href="#Y" x="706" y="30"/><use href="#Y" x="721" y="30"/><use href="#Y" x="736" y="30"/></g>
<g id="m68" class="t"><text class="tp" x="751" y="-20">♩=120</text><text class="mn" x="751" y="-7">68</text><text class="s1" x="991" y="77">400</text><text class="s2" x="991" y="90">79067</text><text class="s3" x="991" y="103">37.77%</text>
<use href="#y" x="751" y="30"/><use href="#y" x="766" y="30"/><use href="#y" x="781" y="30"/><use href="#y" x="796" y="30"/><use href="#y" x="811" y="30"/><use href="#y" x="826" y="30"/><use href="#y" x="841" y="30"/><use href="#y" x="856" y="30"/><use href="#y" x="871" y="30"/><use href="#y" x="886" y="30"/><use href="#y" x="901" y="30"/><use href="#y" x="916" y="30"/><use href="#y" x="931" y="30"/><use href="#y" x="946" y="30"/><use href="#y" x="961" y="30"/><use href="#y" x="976" y="30"/></g>
<rect class="og" x="271" y="-.5" width="480" height="62"/>
<rect class="op" x="261" y="-.5" width="10" height="62"/>
<rect class="ob" x="271" y="-.5" width="720.5" height="62"/>
</g>

<g id="row18" transform="translate(.5,2602.5)">
<use href="#staff"/>
<g id="m69" class="t"><text class="tp" x="31" y="-20">♩=120</text><text class="mn" x="31" y="-7">69</text><text class="s1" x="271" y="77">400</text><text class="s2" x="271" y="90">83867</text><text class="s3" x="271" y="103">25.27%</text>
<use href="#y" x="31" y="30"/><use href="#y" x="46" y="30"/><use href="#y" x="61" y="30"/><use href="#y" x="76" y="30"/><use href="#y" x="91" y="30"/><use href="#y" x="106" y="30"/><use href="#y" x="121" y="30"/><use href="#y" x="136" y="30"/><use href="#o" x="151" y="60"/><use href="#o" x="166" y="60"/><use href="#o" x="181" y="60"/><use href="#o" x="196" y="60"/><use href="#o" x="211" y="60"/><use href="#o" x="226" y="60"/><use href="#o" x="241" y="60"/><use href="#o" x="256" y="60"/></g>
<g id="m70" class="t"><text class="tp" x="271" y="-20">♩=120</text><text class="mn" x="271" y="-7">70</text><text class="s1" x="511" y="77">400</text><text class="s2" x="511" y="90">88667</text><text class="s3" x="511" y="103">12.77%</text>
<use href="#y" x="271" y="30"/><use href="#y" x="286" y="30"/><use href="#y" x="301" y="30"/><use href="#y" x="316" y="30"/><use href="#y" x="331" y="30"/><use href="#y" x="346" y="30"/><use href="#y" x="361" y="30"/><use href="#y" x="376" y="30"/><use href="#y" x="391" y="30"/><use href="#y" x="406" y="30"/><use href="#y" x="421" y="30"/><use href="#y" x="436" y="30"/><use href="#y" x="451" y="30"/><use href="#y" x="466" y="30"/><use href="#y" x="481" y="30"/><use href="#y" x="496" y="30"/></g>
<g id="m71" class="t"><text class="tp" x="511" y="-20">♩=120</text><text class="mn" x="511" y="-7">71</text><text class="s1" x="751" y="77">400</text><text class="s2" x="751" y="90">93467</text><text class="s3" x="751" y="103">0.27%</text>
<use href="#y" x="511" y="30"/><use href="#y" x="526" y="30"/><use href="#y" x="541" y="30"/><use href="#y" x="556" y="30"/><use href="#y" x="571" y="30"/><use href="#y" x="586" y="30"/><use href="#y" x="601" y="30"/><use href="#y" x="616" y="30"/><use href="#y" x="631" y="30"/><use href="#y" x="646" y="30"/><use href="#y" x="661" y="30"/><use href="#y" x="676" y="30"/><use href="#y" x="691" y="30"/><use href="#y" x="706" y="30"/><use href="#y" x="721" y="30"/><use href="#y" x="736" y="30"/></g>
<g id="m72" class="t"><text class="tp" x="751" y="-20">♩=120</text><text class="mn" x="751" y="-7">72</text><text class="s1" x="991" y="77">400</text><text class="s2" x="991" y="90">98267</text><text class="s3" x="991" y="103">0.00%</text>
<use href="#y" x="751" y="30"/><use href="#y" x="766" y="30"/><use href="#y" x="781" y="30"/><use href="#y" x="796" y="30"/><use href="#y" x="811" y="30"/><use href="#y" x="826" y="30"/><use href="#y" x="841" y="30"/><use href="#y" x="856" y="30"/><use href="#y" x="871" y="30"/><use href="#y" x="886" y="30"/><use href="#y" x="901" y="30"/><use href="#y" x="916" y="30"/><use href="#y" x="931" y="30"/><use href="#y" x="946" y="30"/><use href="#y" x="961" y="30"/><use href="#y" x="976" y="30"/></g>
<rect class="ob" x="30.5" y="-.5" width="961" height="62"/>
</g>

<g id="row19" transform="translate(.5,2743.5)">
<rect class="bd" x="751" y="-10" width="240" height="81"/>
<use href="#staff"/>
<g id="m73" class="t"><text class="tp" x="31" y="-20">♩=120</text><text class="mn" x="31" y="-7">73</text><text class="s1" x="271" y="77">400</text><text class="s2" x="271" y="90">103067</text><text class="s3" x="271" y="103">0.00%</text>
<use href="#r" x="31" y="15"/><use href="#r" x="46" y="15"/><use href="#r" x="61" y="15"/><use href="#r" x="76" y="15"/><use href="#r" x="91" y="15"/><use href="#r" x="106" y="15"/><use href="#r" x="121" y="15"/><use href="#r" x="136" y="15"/><use href="#b" x="151" y="45"/><use href="#b" x="166" y="45"/><use href="#b" x="181" y="45"/><use href="#b" x="196" y="45"/><use href="#b" x="211" y="45"/><use href="#b" x="226" y="45"/><use href="#b" x="241" y="45"/><use href="#b" x="256" y="45"/></g>
<g id="m74" class="t"><text class="tp" x="271" y="-20">♩=120</text><text class="mn" x="271" y="-7">74</text><text class="s1" x="511" y="77">400</text><text class="s2" x="511" y="90">107867</text><text class="s3" x="511" y="103">0.00%</text>
<use href="#y" x="271" y="30"/><use href="#y" x="286" y="30"/><use href="#y" x="301" y="30"/><use href="#y" x="316" y="30"/><use href="#y" x="331" y="30"/><use href="#y" x="346" y="30"/><use href="#y" x="361" y="30"/><use href="#y" x="376" y="30"/><use href="#y" x="391" y="30"/><use href="#y" x="406" y="30"/><use href="#y" x="421" y="30"/><use href="#y" x="436" y="30"/><use href="#y" x="451" y="30"/><use href="#y" x="466" y="30"/><use href="#y" x="481" y="30"/><use href="#y" x="496" y="30"/></g>
<g id="m75" class="t"><text class="tp" x="511" y="-20">♩=120</text><text class="mn" x="511" y="-7">75</text><text class="s1" x="751" y="77">400</text><text class="s2" x="751" y="90">112667</text><text class="s3" x="751" y="103">0.00%</text>
<use href="#y" x="511" y="30"/><use href="#y" x="526" y="30"/><use href="#y" x="541" y="30"/><use href="#y" x="556" y="30"/><use href="#y" x="571" y="30"/><use href="#y" x="586" y="30"/><use href="#y" x="601" y="30"/><use href="#y" x="616" y="30"/><use href="#y" x="631" y="30"/><use href="#y" x="646" y="30"/><use href="#y" x="661" y="30"/><use href="#y" x="676" y="30"/><use href="#y" x="691" y="30"/><use href="#y" x="706" y="30"/><use href="#y" x="721" y="30"/><use href="#y" x="736" y="30"/></g>
<g id="m76" class="t"><text class="tp" x="751" y="-20">♩=120</text><text class="mn" x="751" y="-7">76</text><text class="s1" x="991" y="77">425</text><text class="s2" x="991" y="90">115217</text><text class="s3" x="991" y="103">0.00%</text>
<use href="#Y" x="751" y="30"/><use href="#Y" x="766" y="30"/><use href="#Y" x="781" y="30"/><use href="#Y" x="796" y="30"/><use href="#Y" x="811" y="30"/><use href="#Y" x="826" y="30"/><use href="#Y" x="841" y="30"/><use href="#Y" x="856" y="30"/><use href="#Y" x="871" y="30"/><use href="#Y" x="886" y="30"/><use href="#Y" x="901" y="30"/><use href="#Y" x="916" y="30"/><use href="#Y" x="931" y="30"/><use href="#Y" x="946" y="30"/><use href="#Y" x="961" y="30"/><use href="#Y" x="976" y="30"/></g>
<rect class="og" x="751" y="-.5" width="240" height="62"/>
<rect class="ob" x="30.5" y="-.5" width="720.5" height="62"/>
</g>

<g id="row20" transform="translate(.5,2884.5)">
<rect class="bd" x="31" y="-10" width="180" height="81"/>
<use href="#staff"/>
<g id="m77" class="t"><text class="tp" x="31" y="-20">♩=120</text><text class="mn" x="31" y="-7">77</text><text class="s1" x="271" y="77">325</text><text class="s2" x="271" y="90">117167</text><text class="s3" x="271" y="103">0.00%</text>
<use href="#Y" x="31" y="30"/><use href="#Y" x="46" y="30"/><use href="#Y" x="61" y="30"/><use href="#Y" x="76" y="30"/><use href="#Y" x="91" y="30"/><use href="#Y" x="106" y="30"/><use href="#Y" x="121" y="30"/><use href="#Y" x="136" y="30"/><use href="#Y" x="151" y="30"/><use href="#Y" x="166" y="30"/><use href="#Y" x="181" y="30"/><use href="#Y" x="196" y="30"/><use href="#Y" x="211" y="30"/></g>
<g id="m78" class="t"><text class="tp" x="271" y="-20">♩=120</text><text class="mn" x="271" y="-7">78</text><text class="s1" x="511" y="77">0</text><text class="s2" x="511" y="90">117167</text><text class="s3" x="511" y="103">0.00%</text></g>
<g id="m79" class="t"><text class="tp" x="511" y="-20">♩=120</text><text class="mn" x="511" y="-7">79</text><text class="s1" x="751" y="77">0</text><text class="s2" x="751" y="90">117167</text><text class="s3" x="751" y="103">0.00%</text></g>
<g id="m80" class="t"><text class="tp" x="751" y="-20">♩=120</text><text class="mn" x="751" y="-7">80</text><text class="s1" x="991" y="77">168</text><text class="s2" x="991" y="90">118175</text><text class="s3" x="991" y="103">0.00%</text>
<rect class="sg" x="751" y="-3.5" width="45" height="7"/><rect class="sg" x="811" y="-3.5" width="45" height="7"/>
<use href="#g" x="751"/><use href="#g" x="811"/><use href="#g" x="871"/><use href="#g" x="901"/><use href="#g" x="931"/><use href="#g" x="961"/></g>
<rect class="og" x="31" y="-.5" width="180" height="62"/>
</g>

<g id="row21" transform="translate(.5,3025.5)">
<use href="#staff"/>
<g id="m81" class="t"><text class="tp" x="31" y="-20">♩=120</text><text class="mn" x="31" y="-7">81</text><text class="s1" x="271" y="77">168</text><text class="s2" x="271" y="90">119183</text><text class="s3" x="271" y="103">25.00%</text>
<rect class="sr" x="31" y="11.5" width="45" height="7"/><rect class="sr" x="91" y="11.5" width="45" height="7"/>
<use href="#r" x="31" y="15"/><use href="#r" x="91" y="15"/><use href="#r" x="151" y="15"/><use href="#r" x="181" y="15"/><use href="#r" x="211" y="15"/><use href="#r" x="241" y="15"/></g>
<g id="m82" class="t"><text class="tp" x="271" y="-20">♩=120</text><text class="mn" x="271" y="-7">82</text><text class="s1" x="511" y="77">168</text><text class="s2" x="511" y="90">120191</text><text class="s3" x="511" y="103">25.00%</text>
<rect class="so" x="271" y="56.5" width="45" height="7"/><rect class="so" x="331" y="56.5" width="45" height="7"/>
<use href="#o" x="271" y="60"/><use href="#o" x="331" y="60"/><use href="#o" x="391" y="60"/><use href="#o" x="421" y="60"/><use href="#o" x="451" y="60"/><use href="#o" x="481" y="60"/></g>
<g id="m83" class="t"><text class="tp" x="511" y="-20">♩=120</text><text class="mn" x="511" y="-7">83</text><text class="s1" x="751" y="77">151</text><text class="s2" x="751" y="90">122003</text><text class="s3" x="751" y="103">16.13%</text>
<rect class="sy" x="511" y="26.5" width="45" height="7"/><rect class="sb" x="631" y="41.5" width="45" height="7"/>
<use href="#y" x="511" y="30"/><use href="#y" x="541" y="30"/><use href="#y" x="571" y="30"/><use href="#b" x="631" y="45"/><use href="#b" x="691" y="45"/><use href="#b" x="721" y="45"/></g>
<g id="m84" class="t"><text class="tp" x="751" y="-20">♩=120</text><text class="mn" x="751" y="-7">84</text><text class="s1" x="991" y="77">200</text><text class="s2" x="991" y="90">124403</text><text class="s3" x="991" y="103">3.63%</text>
<rect class="sb" x="751" y="41.5" width="45" height="7"/><rect class="sb" x="811" y="41.5" width="45" height="7"/>
<use href="#b" x="751" y="45"/><use href="#b" x="811" y="45"/><use href="#y" x="871" y="30"/><use href="#y" x="901" y="30"/><use href="#o" x="931" y="60"/><use href="#o" x="961" y="60"/></g>
<rect class="op" x="566" y="-.5" width="10" height="62"/>
<rect class="ob" x="576" y="-.5" width="415.5" height="62"/>
</g>

<g id="row22" transform="translate(.5,3166.5)">
<use href="#staff"/>
<g id="m85" class="t"><text class="tp" x="31" y="-20">♩=120</text><text class="mn" x="31" y="-7">85</text><text class="s1" x="271" y="77">200</text><text class="s2" x="271" y="90">126803</text><text class="s3" x="271" y="103">0.00%</text>
<use href="#b" x="31" y="45"/><use href="#b" x="46" y="45"/><use href="#b" x="61" y="45"/><use href="#b" x="76" y="45"/><use href="#b" x="91" y="45"/><use href="#b" x="106" y="45"/><use href="#b" x="121" y="45"/><use href="#b" x="136" y="45"/><use href="#y" x="211" y="30"/><use href="#r" x="241" y="15"/></g>
<g id="m86" class="t"><text class="tp" x="271" y="-20">♩=120</text><text class="mn" x="271" y="-7">86</text><text class="s1" x="511" y="77">200</text><text class="s2" x="511" y="90">129203</text><text class="s3" x="511" y="103">23.44%</text>
<use href="#Y" x="271" y="30"/><use href="#Y" x="301" y="30"/><use href="#Y" x="331" y="30"/><use href="#Y" x="361" y="30"/><use href="#Y" x="391" y="30"/><use href="#Y" x="421" y="30"/><use href="#Y" x="451" y="30"/><use href="#Y" x="481" y="30"/></g>
<g id="m87" class="t"><text class="tp" x="511" y="-20">♩=120</text><text class="mn" x="511" y="-7">87</text><text class="s1" x="751" y="77">300</text><text class="s2" x="751" y="90">132803</text><text class="s3" x="751" y="103">18.94%</text>
<use href="#r" x="511" y="15"/><use href="#y" x="541" y="30"/><use href="#y" x="571" y="30"/><use href="#o" x="601" y="60"/><use href="#o" x="631" y="60"/><use href="#o" x="661" y="60"/><use href="#y" x="691" y="30"/><use href="#r" x="721" y="15"/></g>
<g id="m88" class="t"><text class="tp" x="751" y="-20">♩=120</text><text class="mn" x="751" y="-7">88</text><text class="s1" x="991" y="77">304</text><text class="s2" x="991" y="90">134627</text><text class="s3" x="991" y="103">0.00%</text>
<rect class="sg" x="751" y="-3.5" width="45" height="7"/><rect class="sg" x="811" y="-3.5" width="45" height="7"/><rect class="sg" x="871" y="-3.5" width="100" height="7"/>
<use href="#g" x="751"/><use href="#g" x="811"/><use href="#g" x="871"/></g>
<rect class="og" x="271" y="-.5" width="240" height="62"/>
<rect class="ob" x="30.5" y="-.5" width="720.5" height="62"/>
</g>

<g id="row23" transform="translate(.5,3307.5)">
<use href="#staff"/>
<g id="m89" class="t"><text class="tp" x="31" y="-20">♩=120</text><text class="mn" x="31" y="-7">89</text><text class="s1" x="271" y="77">229</text><text class="s2" x="271" y="90">136001</text><text class="s3" x="271" y="103">0.00%</text>
<rect class="sy" x="61" y="26.5" width="90" height="7"/><rect class="sy" x="181" y="26.5" width="75" height="7"/>
<use href="#y" x="31" y="30"/><use href="#y" x="61" y="30"/><use href="#y" x="181" y="30"/></g>
<g id="m90" class="t"><text class="tp" x="271" y="-20">♩=120</text><text class="mn" x="271" y="-7">90</text><text class="s1" x="511" y="77">152</text><text class="s2" x="511" y="90">136913</text><text class="s3" x="511" y="103">0.00%</text>
<rect class="sr" x="271" y="11.5" width="60" height="7"/><rect class="sr" x="331" y="11.5" width="100" height="7"/>
<use href="#r" x="271" y="15"/><use href="#r" x="331" y="15"/><use href="#r" x="451" y="15"/></g>
<g id="m91" class="t"><text class="tp" x="511" y="-20">♩=120</text><text class="mn" x="511" y="-7">91</text><text class="s1" x="751" y="77">168</text><text class="s2" x="751" y="90">137921</text><text class="s3" x="751" y="103">0.00%</text>
<rect class="sb" x="571" y="41.5" width="50" height="7"/><rect class="so" x="691" y="56.5" width="45" height="7"/>
<use href="#b" x="571" y="45"/><use href="#b" x="631" y="45"/><use href="#o" x="661" y="60"/><use href="#o" x="691" y="60"/></g>
<g id="m92" class="t"><text class="tp" x="751" y="-20">♩=120</text><text class="mn" x="751" y="-7">92</text><text class="s1" x="991" y="77">150</text><text class="s2" x="991" y="90">138821</text><text class="s3" x="991" y="103">0.00%</text>
<use href="#g" x="751"/></g>
<rect class="ob" x="30.5" y="-.5" width="70" height="62"/>
</g>

<g id="row24" transform="translate(.5,3448.5)">
<use href="#staff"/>
<g id="m93" class="t"><text class="tp" x="31" y="-20">♩=120</text><text class="mn" x="31" y="-7">93</text><text class="s1" x="271" y="77">150</text><text class="s2" x="271" y="90">139721</text><text class="s3" x="271" y="103">0.00%</text>
<use href="#b" x="61" y="45"/><use href="#b" x="91" y="45"/><use href="#y" x="106" y="30"/></g>
<g id="m94" class="t"><text class="tp" x="271" y="-20">♩=120</text><text class="mn" x="271" y="-7">94</text><text class="s1" x="511" y="77">150</text><text class="s2" x="511" y="90">140621</text><text class="s3" x="511" y="103">0.00%</text>
<use href="#g" x="271"/><use href="#g" x="301"/><use href="#g" x="361"/><use href="#g" x="391"/><use href="#g" x="451"/><use href="#g" x="481"/></g>
<g id="m95" class="t"><text class="tp" x="511" y="-20">♩=120</text><text class="mn" x="511" y="-7">95</text><text class="s1" x="751" y="77">150</text><text class="s2" x="751" y="90">141521</text><text class="s3" x="751" y="103">0.00%</text>
<use href="#b" x="571" y="45"/><use href="#b" x="601" y="45"/><use href="#y" x="631" y="30"/></g>
<g id="m96" class="t"><text class="tp" x="751" y="-20">♩=120</text><text class="mn" x="751" y="-7">96</text><text class="s1" x="991" y="77">50</text><text class="s2" x="991" y="90">141821</text><text class="s3" x="991" y="103">0.00%</text>
<use href="#g" x="751"/></g>
</g>
</svg>
